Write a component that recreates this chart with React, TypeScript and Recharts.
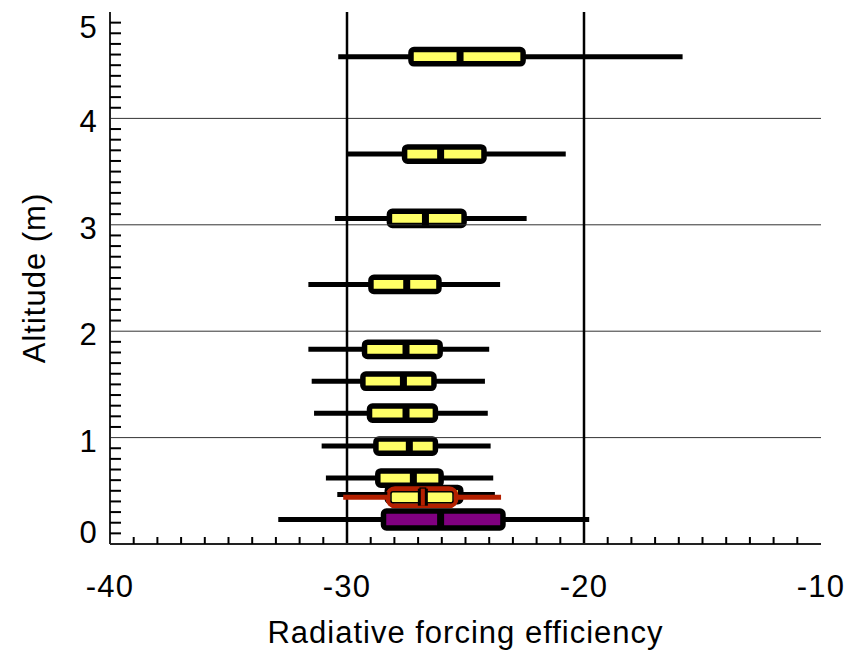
import React from "react";
import { ComposedChart, XAxis, YAxis, ReferenceLine, ReferenceArea } from "recharts";

// box statistics: [min, q1, median, q3, max] per altitude
const profileAltitude = [4.58, 3.665, 3.06, 2.44, 1.83, 1.53, 1.23, 0.92, 0.62, 0.465];
const profileMin = [-30.37, -30.0, -30.51, -31.63, -31.63, -31.49, -31.39, -31.07, -30.89, -30.41];
const profileQ1 = [-27.3, -27.57, -28.21, -28.99, -29.26, -29.33, -29.05, -28.78, -28.7, -28.3];
const profileMedian = [-25.23, -26.05, -26.69, -27.48, -27.51, -27.62, -27.51, -27.37, -27.2, -26.8];
const profileQ3 = [-22.57, -24.22, -25.06, -26.12, -26.07, -26.33, -26.27, -26.27, -26.03, -25.2];
const profileMax = [-15.84, -20.77, -22.42, -23.54, -24.0, -24.18, -24.06, -23.94, -23.83, -23.76];

const redAltitude = 0.44;
const redStats = [-30.16, -28.27, -26.8, -25.4, -23.5];

const purpleAltitude = 0.23;
const purpleStats = [-32.9, -28.46, -26.05, -23.42, -19.78];

const xMajorTicks = [-40, -30, -20, -10];
const yMajorTicks = [0, 1, 2, 3, 4, 5];
const xLines = [-30, -20];
const yLines = [1, 2, 3, 4];

const X_MINOR = 1;
const Y_MINOR = 0.1;

const xTicks: number[] = [];
for (let v = xMajorTicks[0]; v <= xMajorTicks[xMajorTicks.length - 1]; v += X_MINOR) xTicks.push(v);
const yTicks: number[] = [];
for (let i = 0; i <= 50; i++) yTicks.push(Math.round(i * Y_MINOR * 10) / 10);

const FONT = "'Liberation Sans', Arial, Helvetica, sans-serif";
const YELLOW = "#FFFF66";
const RED = "#B42000";
const PURPLE = "#800080";

type Style = "yellow" | "red" | "purple";
interface Row {
  alt: number;
  min: number;
  q1: number;
  med: number;
  q3: number;
  max: number;
  style: Style;
}

const rows: Row[] = [
  ...profileAltitude.map((alt, i) => ({
    alt,
    min: profileMin[i],
    q1: profileQ1[i],
    med: profileMedian[i],
    q3: profileQ3[i],
    max: profileMax[i],
    style: "yellow" as Style,
  })),
  { alt: redAltitude, min: redStats[0], q1: redStats[1], med: redStats[2], q3: redStats[3], max: redStats[4], style: "red" },
  { alt: purpleAltitude, min: purpleStats[0], q1: purpleStats[1], med: purpleStats[2], q3: purpleStats[3], max: purpleStats[4], style: "purple" },
];

const halfHeight: Record<Style, number> = { yellow: 0.067, red: 0.08, purple: 0.08 };

const isMajor = (v: number, majors: number[]) => majors.some((m) => Math.abs(m - v) < 1e-6);

const tickText = { fontFamily: FONT, fontSize: 31, letterSpacing: 1.2, fill: "#000" };

const BottomTick = ({ x, y, payload }: any) => {
  const v = payload.value;
  const major = isMajor(v, xMajorTicks);
  return (
    <g>
      {!major && <line x1={x} y1={y} x2={x} y2={y - 7} stroke="#000" strokeWidth={2} />}
      {major && (
        <text x={x} y={y + 53} textAnchor="middle" {...tickText}>
          {v}
        </text>
      )}
    </g>
  );
};

const TopTick = ({ x, y, payload }: any) => {
  if (isMajor(payload.value, xMajorTicks)) return <g />;
  return <line x1={x} y1={y} x2={x} y2={y + 6} stroke="#000" strokeWidth={2} />;
};

const LeftTick = ({ x, y, payload }: any) => {
  const v = payload.value;
  const major = isMajor(v, yMajorTicks);
  // end labels are pulled inside the frame, as in the original
  let dy = 14;
  if (v === 5) dy = 26;
  if (v === 0) dy = -1;
  return (
    <g>
      {!major && <line x1={x} y1={y} x2={x + 11} y2={y} stroke="#000" strokeWidth={2} />}
      {major && (
        <text x={x - 12} y={y + dy} textAnchor="end" {...tickText}>
          {v}
        </text>
      )}
    </g>
  );
};

const RightTick = ({ x, y, payload }: any) => {
  if (isMajor(payload.value, yMajorTicks)) return <g />;
  return <line x1={x} y1={y} x2={x - 11} y2={y} stroke="#000" strokeWidth={2} />;
};

const boxShape = (style: Style) => (props: any) => {
  const { x, y, width, height } = props;
  if (style === "red") {
    return (
      <g>
        <rect x={x} y={y} width={width} height={height} rx={7} fill={YELLOW} stroke={RED} strokeWidth={5} />
        <rect x={x + 3} y={y + 3} width={width - 6} height={height - 6} rx={2} fill="none" stroke="#000" strokeWidth={1.5} />
      </g>
    );
  }
  return (
    <rect
      x={x}
      y={y}
      width={width}
      height={height}
      rx={3}
      fill={style === "purple" ? PURPLE : YELLOW}
      stroke="#000"
      strokeWidth={5.5}
    />
  );
};

const axisLine = { stroke: "#222", strokeWidth: 2 };

export default function App() {
  return (
    <div style={{ width: 850, height: 653 }}>
      <style>{"body{margin:0}"}</style>
      <ComposedChart width={850} height={653} margin={{ top: 12, right: 29, bottom: 0, left: 0 }}>
        <XAxis
          type="number"
          dataKey="x"
          domain={[-40, -10]}
          allowDataOverflow
          ticks={xTicks}
          interval={0}
          tickSize={0}
          tickMargin={0}
          tickLine={false}
          tick={<BottomTick />}
          axisLine={axisLine}
          height={109}
          label={{
            value: "Radiative forcing efficiency",
            position: "insideBottom",
            offset: 10,
            fontSize: 31,
            fontFamily: FONT,
            fill: "#000",
            style: { letterSpacing: 1 },
          }}
        />
        <XAxis
          xAxisId="top"
          orientation="top"
          type="number"
          domain={[-40, -10]}
          allowDataOverflow
          ticks={xTicks}
          interval={0}
          tickSize={0}
          tickMargin={0}
          tickLine={false}
          tick={<TopTick />}
          axisLine={axisLine}
          height={0}
        />
        <YAxis
          type="number"
          dataKey="y"
          domain={[0, 5]}
          allowDataOverflow
          ticks={yTicks}
          interval={0}
          tickSize={0}
          tickMargin={0}
          tickLine={false}
          tick={<LeftTick />}
          axisLine={axisLine}
          width={110}
          label={{
            value: "Altitude (m)",
            angle: -90,
            position: "insideLeft",
            offset: 34,
            fontSize: 31,
            fontFamily: FONT,
            fill: "#000",
            style: { textAnchor: "middle", letterSpacing: 1 },
          }}
        />
        <YAxis
          yAxisId="right"
          orientation="right"
          type="number"
          domain={[0, 5]}
          allowDataOverflow
          ticks={yTicks}
          interval={0}
          tickSize={0}
          tickMargin={0}
          tickLine={false}
          tick={<RightTick />}
          axisLine={axisLine}
          width={0}
        />

        {yLines.map((v) => (
          <ReferenceLine key={`gy${v}`} y={v} stroke="#333" strokeWidth={1} />
        ))}
        {xLines.map((v) => (
          <ReferenceLine key={`gx${v}`} x={v} stroke="#000" strokeWidth={2.5} />
        ))}

        {rows.map((r, i) => {
          const h = halfHeight[r.style];
          const wc = r.style === "red" ? RED : "#000";
          return (
            <React.Fragment key={`row${i}`}>
              <ReferenceLine
                segment={[{ x: r.min, y: r.alt }, { x: r.q1, y: r.alt }]}
                stroke={wc}
                strokeWidth={5}
              />
              <ReferenceLine
                segment={[{ x: r.q3, y: r.alt }, { x: r.max, y: r.alt }]}
                stroke={wc}
                strokeWidth={5}
              />
              <ReferenceArea
                x1={r.q1}
                x2={r.q3}
                y1={r.alt - h}
                y2={r.alt + h}
                shape={boxShape(r.style)}
              />
              <ReferenceLine
                segment={[{ x: r.med, y: r.alt - h }, { x: r.med, y: r.alt + h }]}
                stroke="#000"
                strokeWidth={r.style === "red" ? 10 : 7}
              />
              {r.style === "red" && (
                <ReferenceLine
                  segment={[{ x: r.med, y: r.alt - h }, { x: r.med, y: r.alt + h }]}
                  stroke={RED}
                  strokeWidth={4}
                />
              )}
            </React.Fragment>
          );
        })}
      </ComposedChart>
    </div>
  );
}
